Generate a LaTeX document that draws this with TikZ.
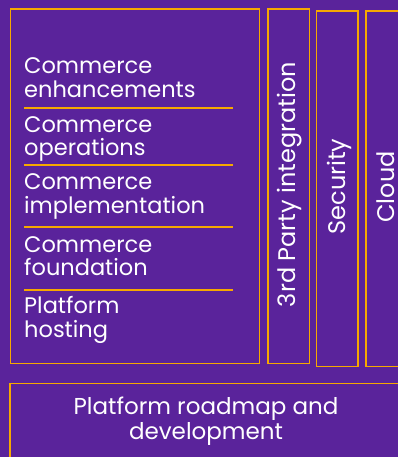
\documentclass[tikz,border=0pt]{standalone}
\usepackage{fontspec}
\setmainfont{Poppins}
\definecolor{bgpurple}{RGB}{90,35,155}
\definecolor{gold}{RGB}{247,168,0}
\begin{document}
\begin{tikzpicture}[x=1pt,y=-1pt,
  frame/.style={draw=gold,line width=1.4pt,inner sep=0pt,anchor=north west},
  sepline/.style={draw=gold,line width=1.4pt},
  lbl/.style={text=white,font=\fontsize{22.5}{23.5}\selectfont,inner sep=0pt,align=left,anchor=base west},
  vlbl/.style={text=white,font=\fontsize{24}{25}\selectfont,inner sep=0pt,rotate=90,anchor=base},
  clbl/.style={text=white,font=\fontsize{23}{25}\selectfont,inner sep=0pt,align=center,anchor=base}]
\useasboundingbox (0,0) rectangle (398,457);
\fill[bgpurple] (0,0) rectangle (398,457);
% main stack box
\node[frame,minimum width=249pt,minimum height=354.5pt] (main) at (10,8.5) {};
% side columns
\node[frame,minimum width=41.4pt,minimum height=354.7pt] (col1) at (267.3,8.3) {};
\node[frame,minimum width=41.3pt,minimum height=355.4pt] (col2) at (316,10.3) {};
\node[frame,minimum width=41.3pt,minimum height=355.4pt] (col3) at (365.3,10.3) {};
% bottom box
\node[frame,minimum width=393.5pt,minimum height=100pt] (road) at (9.3,382.7) {};
% dividers
\draw[sepline] (24,108) -- (233,108);
\draw[sepline] (24,165) -- (233,165);
\draw[sepline] (24,227) -- (233,227);
\draw[sepline] (24,290) -- (233,290);
% stack labels (anchor = baseline of the last line)
\node[lbl] (t1) at (24,97.5) {Commerce\\enhancements};
\node[lbl] (t2) at (24,156) {Commerce\\operations};
\node[lbl] (t3) at (24,213) {Commerce\\implementation};
\node[lbl] (t4) at (24,275.5) {Commerce\\foundation};
\node[lbl] (t5) at (24,337) {Platform\\hosting};
% vertical labels
\node[vlbl] (v1) at (295,184.5) {3rd Party integration};
\node[vlbl] (v2) at (345,186.5) {Security};
\node[vlbl] (v3) at (394.5,187) {Cloud};
% bottom label
\node[clbl] (rt) at (206,439.3) {Platform roadmap and\\development};
\end{tikzpicture}
\end{document}
